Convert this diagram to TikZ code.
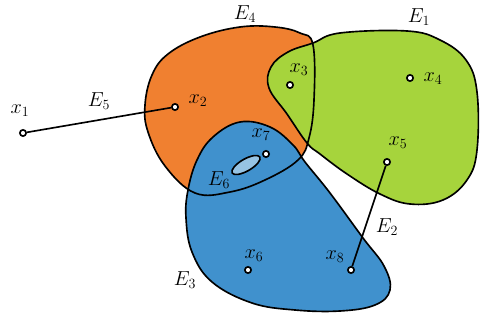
\documentclass[tikz,border=0pt]{standalone}
\usepackage{amsmath}
\usepackage{tikz}
\usetikzlibrary{positioning}
\definecolor{colOne}{RGB}{166,212,60}
\definecolor{colThree}{RGB}{64,145,205}
\definecolor{colFour}{RGB}{240,128,48}

\begin{document}
\begin{tikzpicture}[
  x=0.03cm, y=-0.03cm,
  hedge/.style={line width=1.4pt, line join=round},
  vtx/.style={circle, draw, line width=1.4pt, fill=white, inner sep=1.9pt},
  lbl/.style={font=\LARGE, inner sep=1pt},
]
\useasboundingbox (0,0) rectangle (480,321);

% hyperedges: fills first
\fill[colFour] plot[smooth cycle, tension=0.65] coordinates {(145,105) (152,75) (168,54) (200,37) (240,27) (275,27) (300,33) (313,45) (314,100) (309,138) (298,160) (265,180) (230,192) (195,193) (165,166) (148,132)};
\fill[colThree] plot[smooth cycle, tension=0.65] coordinates {(188,190) (197,160) (213,137) (240,122) (270,127) (293,145) (305,162) (330,193) (363,238) (384,266) (390,290) (375,305) (340,311) (295,310) (252,303) (212,282) (192,252) (186,218)};
\fill[colOne] plot[smooth cycle, tension=0.65] coordinates {(313,43) (340,33) (407,31) (440,40) (466,60) (477,92) (477,150) (467,180) (443,200) (410,204) (380,194) (347,174) (320,154) (307,143) (287,114) (269,88) (271,67) (288,52)};
\fill[colThree!55!white, shift={(246,165)}, rotate=30] (0,0) ellipse [x radius=16, y radius=6];

% outlines
\draw[hedge] plot[smooth cycle, tension=0.65] coordinates {(145,105) (152,75) (168,54) (200,37) (240,27) (275,27) (300,33) (313,45) (314,100) (309,138) (298,160) (265,180) (230,192) (195,193) (165,166) (148,132)};
\draw[hedge] plot[smooth cycle, tension=0.65] coordinates {(188,190) (197,160) (213,137) (240,122) (270,127) (293,145) (305,162) (330,193) (363,238) (384,266) (390,290) (375,305) (340,311) (295,310) (252,303) (212,282) (192,252) (186,218)};
\draw[hedge] plot[smooth cycle, tension=0.65] coordinates {(313,43) (340,33) (407,31) (440,40) (466,60) (477,92) (477,150) (467,180) (443,200) (410,204) (380,194) (347,174) (320,154) (307,143) (287,114) (269,88) (271,67) (288,52)};
\draw[hedge, shift={(246,165)}, rotate=30] (0,0) ellipse [x radius=16, y radius=6];

% vertices
\node[vtx] (x1) at (23,133) {};
\node[vtx] (x2) at (175,107) {};
\node[vtx] (x3) at (290,85) {};
\node[vtx] (x4) at (410,78) {};
\node[vtx] (x5) at (387,162) {};
\node[vtx] (x6) at (248,270) {};
\node[vtx] (x7) at (266,154) {};
\node[vtx] (x8) at (351,270) {};

% two-vertex edges
\draw[hedge] (x1) -- (x2);
\draw[hedge] (x5) -- (x8);

% labels
\node[lbl] (lx1) at (20,111) {$x_1$};
\node[lbl] (lx2) at (198,101) {$x_2$};
\node[lbl] (lx3) at (299,70) {$x_3$};
\node[lbl] (lx4) at (433,79) {$x_4$};
\node[lbl] (lx5) at (398,143) {$x_5$};
\node[lbl] (lx6) at (254,256) {$x_6$};
\node[lbl] (lx7) at (261,135) {$x_7$};
\node[lbl] (lx8) at (335,257) {$x_8$};
\node[lbl] (e1) at (419,17) {$E_1$};
\node[lbl] (e2) at (387,227) {$E_2$};
\node[lbl] (e3) at (185,280) {$E_3$};
\node[lbl] (e4) at (245,14) {$E_4$};
\node[lbl] (e5) at (99,101) {$E_5$};
\node[lbl] (e6) at (219,180) {$E_6$};
\end{tikzpicture}
\end{document}
